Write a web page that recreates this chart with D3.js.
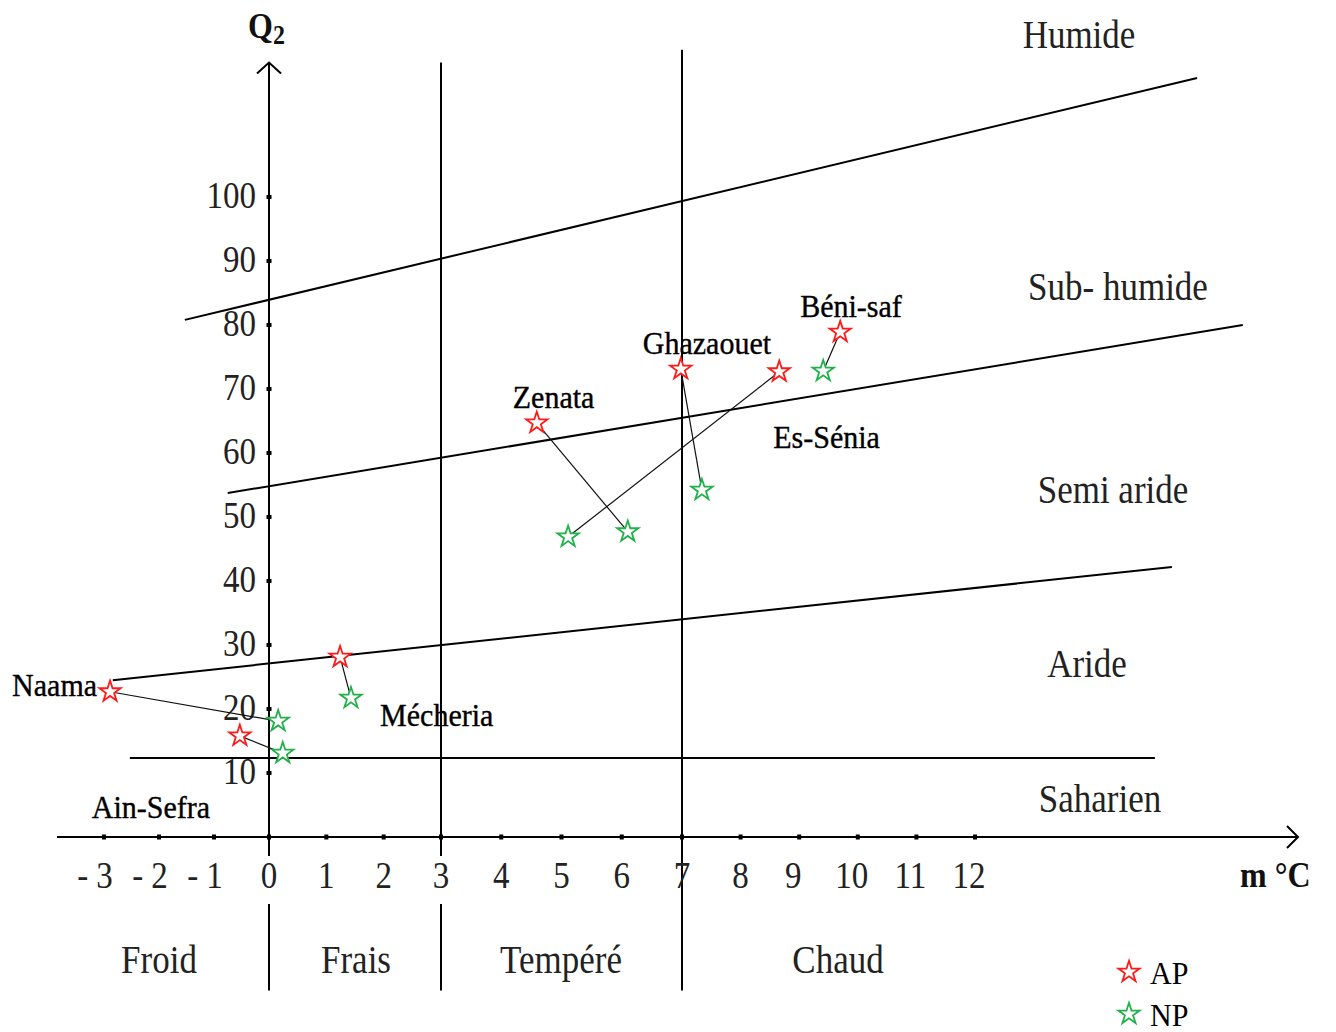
<!DOCTYPE html>
<html><head><meta charset="utf-8">
<script src="https://cdn.jsdelivr.net/npm/d3@7"></script>
<style>
html,body{margin:0;padding:0;background:#fff;}
svg{display:block;}
text{font-family:"Liberation Serif","Times New Roman",serif;}
</style></head>
<body>
<svg id="chart" width="1336" height="1032"></svg>
<script>
// ---------- data ----------
const tempTicks = [-3,-2,-1,0,1,2,3,4,5,6,7,8,9,10,11,12];
const tempTickLabels = ["- 3","- 2","- 1","0","1","2","3","4","5","6","7","8","9","10","11","12"];
const q2Ticks = [10,20,30,40,50,60,70,80,90,100];
const q2TickLabels = ["10","20","30","40","50","60","70","80","90","100"];

const stations = ["Naama","Ain-Sefra","Mécheria","Zenata","Ghazaouet","Es-Sénia","Béni-saf"];
const apM  = [-2.89,-0.53,1.24,4.59,6.98,8.66,9.70];
const apQ2 = [22.7,15.8,28.1,64.7,73.1,72.7,78.9];
const npM  = [0.16,0.24,1.43,6.10,7.34,5.11,9.41];
const npQ2 = [18.1,13.1,21.7,47.7,54.2,46.9,72.8];

// bioclimatic boundaries [m, Q2] at both ends
const boundaryNames = ["Humide/Sub-humide","Sub-humide/Semi aride","Semi aride/Aride","Aride/Saharien"];
const boundaryStart = [[-1.53,80.8],[-0.75,53.75],[-2.84,24.5],[-2.53,12.34]];
const boundaryEnd   = [[15.79,118.6],[16.57,80.0],[15.36,42.2],[15.07,12.34]];

const zoneNames = ["Humide","Sub- humide","Semi aride","Aride","Saharien"];
const winterNames = ["Froid","Frais","Tempéré","Chaud"];
const tempBounds = [3,7];
const tempBoundTop = [121,123];
const legendNames = ["AP","NP"];

// ---------- layout ----------
const svg = d3.select("#chart");
const x = d3.scaleLinear().domain([-3,0,3,7,12]).range([104,269,441,682,975]);
const y = d3.scaleLinear().domain([0,100]).range([837,197]);
const RED = "#ff1a1a", GREEN = "#22b04a";

function txt(g, s, px, py, opts){
  const o = Object.assign({size:34, sy:1.12, anchor:"middle", weight:"normal", fill:"#111"}, opts||{});
  return g.append("text")
    .attr("transform", `translate(${px},${py}) scale(1,${o.sy})`)
    .attr("text-anchor", o.anchor)
    .attr("font-size", o.size)
    .attr("font-weight", o.weight)
    .attr("fill", o.fill)
    .text(s);
}

const gLines = svg.append("g");
const yMinQ = -24, yTopQ = 121;
gLines.append("line").attr("x1", x(0)).attr("x2", x(0)).attr("y1", y(yTopQ)).attr("y2", y(yMinQ))
  .attr("stroke","#000").attr("stroke-width",2);
gLines.append("path").attr("d", `M${x(0)-12},${y(yTopQ)+11}L${x(0)},${y(yTopQ)}L${x(0)+12},${y(yTopQ)+11}`)
  .attr("fill","none").attr("stroke","#000").attr("stroke-width",2);
const xAxisEnd = 1298;
gLines.append("line").attr("x1", 57).attr("x2", xAxisEnd).attr("y1", y(0)).attr("y2", y(0))
  .attr("stroke","#000").attr("stroke-width",2);
gLines.append("path").attr("d", `M${xAxisEnd-11},${y(0)-11}L${xAxisEnd},${y(0)}L${xAxisEnd-11},${y(0)+11}`)
  .attr("fill","none").attr("stroke","#000").attr("stroke-width",2);

tempBounds.forEach((t,i)=>{
  gLines.append("line").attr("x1", x(t)).attr("x2", x(t)).attr("y1", y(tempBoundTop[i])).attr("y2", y(yMinQ))
    .attr("stroke","#000").attr("stroke-width",2);
});

tempTicks.forEach(t=>{
  gLines.append("rect").attr("x", x(t)-2).attr("y", y(0)-2.5).attr("width",4).attr("height",5).attr("fill","#000");
});
q2Ticks.forEach(q=>{
  gLines.append("rect").attr("x", x(0)-2.5).attr("y", y(q)-2).attr("width",5).attr("height",4).attr("fill","#000");
});

boundaryStart.forEach((s,i)=>{
  const e = boundaryEnd[i];
  gLines.append("line").attr("x1", x(s[0])).attr("y1", y(s[1])).attr("x2", x(e[0])).attr("y2", y(e[1]))
    .attr("stroke","#000").attr("stroke-width",2);
});

// tick labels
const gT = svg.append("g");
tempTicks.forEach((t,i)=>{
  const dx = t < 0 ? -9 : (t >= 9 ? -6 : 0);
  if (t === 0 || t === 3) {
    gT.append("rect").attr("x", x(t)-9).attr("y", 856).attr("width",18).attr("height",48).attr("fill","#fff");
  }
  txt(gT, tempTickLabels[i], x(t)+dx, 888, {size:33, sy:1.15, fill:"#222"});
});
q2Ticks.forEach((q,i)=>{
  txt(gT, q2TickLabels[i], 256, y(q)+11, {size:33, sy:1.15, anchor:"end", fill:"#222"});
});

// axis titles
const qt = svg.append("text").attr("transform","translate(248,38) scale(1,1.1)")
  .attr("font-size",32).attr("font-weight","bold").attr("fill","#111");
qt.append("tspan").text("Q");
qt.append("tspan").attr("font-size",24).attr("dy",5).text("2");
txt(svg, "m °C", 1240, 887, {size:32, sy:1.1, anchor:"start", weight:"bold"});

// connection lines AP -> NP
const gC = svg.append("g");
stations.forEach((s,i)=>{
  gC.append("line").attr("x1", x(apM[i])).attr("y1", y(apQ2[i])).attr("x2", x(npM[i])).attr("y2", y(npQ2[i]))
    .attr("stroke","#111").attr("stroke-width",1.2);
});

// stars
const star = d3.symbol().type(d3.symbolStar).size(140);
const gS = svg.append("g");
stations.forEach((s,i)=>{
  gS.append("path").attr("d", star()).attr("transform",`translate(${x(apM[i])},${y(apQ2[i])})`)
    .attr("fill","#fff").attr("stroke",RED).attr("stroke-width",1.8);
  gS.append("path").attr("d", star()).attr("transform",`translate(${x(npM[i])},${y(npQ2[i])})`)
    .attr("fill","#fff").attr("stroke",GREEN).attr("stroke-width",1.8);
});

// station labels (pixel offsets from AP point)
const labelOffset = [[-13,4,"end"],[-148,82,"start"],[40,69,"start"],[-24,-15,"start"],[-38,-15,"start"],[-6,76,"start"],[-40,-15,"start"]];
const gL = svg.append("g");
stations.forEach((s,i)=>{
  const o = labelOffset[i];
  txt(gL, s, x(apM[i])+o[0], y(apQ2[i])+o[1], {size:30, sy:1.08, anchor:o[2], fill:"#000"})
    .attr("stroke","#000").attr("stroke-width",0.35);
});

// zone labels
const zonePos = [[1079,48],[1118,300],[1113,503],[1087,677],[1100,812]];
zoneNames.forEach((z,i)=>txt(svg, z, zonePos[i][0], zonePos[i][1], {size:35, sy:1.12, fill:"#222"}));
const winterPos = [159,356,561,838];
winterNames.forEach((w,i)=>txt(svg, w, winterPos[i], 973, {size:35, sy:1.12, fill:"#222"}));

// legend
const legendColors = [RED, GREEN];
const legendY = [972,1014];
legendNames.forEach((n,i)=>{
  svg.append("path").attr("d", star()).attr("transform",`translate(${1129},${legendY[i]})`)
    .attr("fill","#fff").attr("stroke",legendColors[i]).attr("stroke-width",1.8);
  txt(svg, n, 1150, legendY[i]+12, {size:30, sy:1.08, anchor:"start", fill:"#000"});
});
</script>
</body></html>
